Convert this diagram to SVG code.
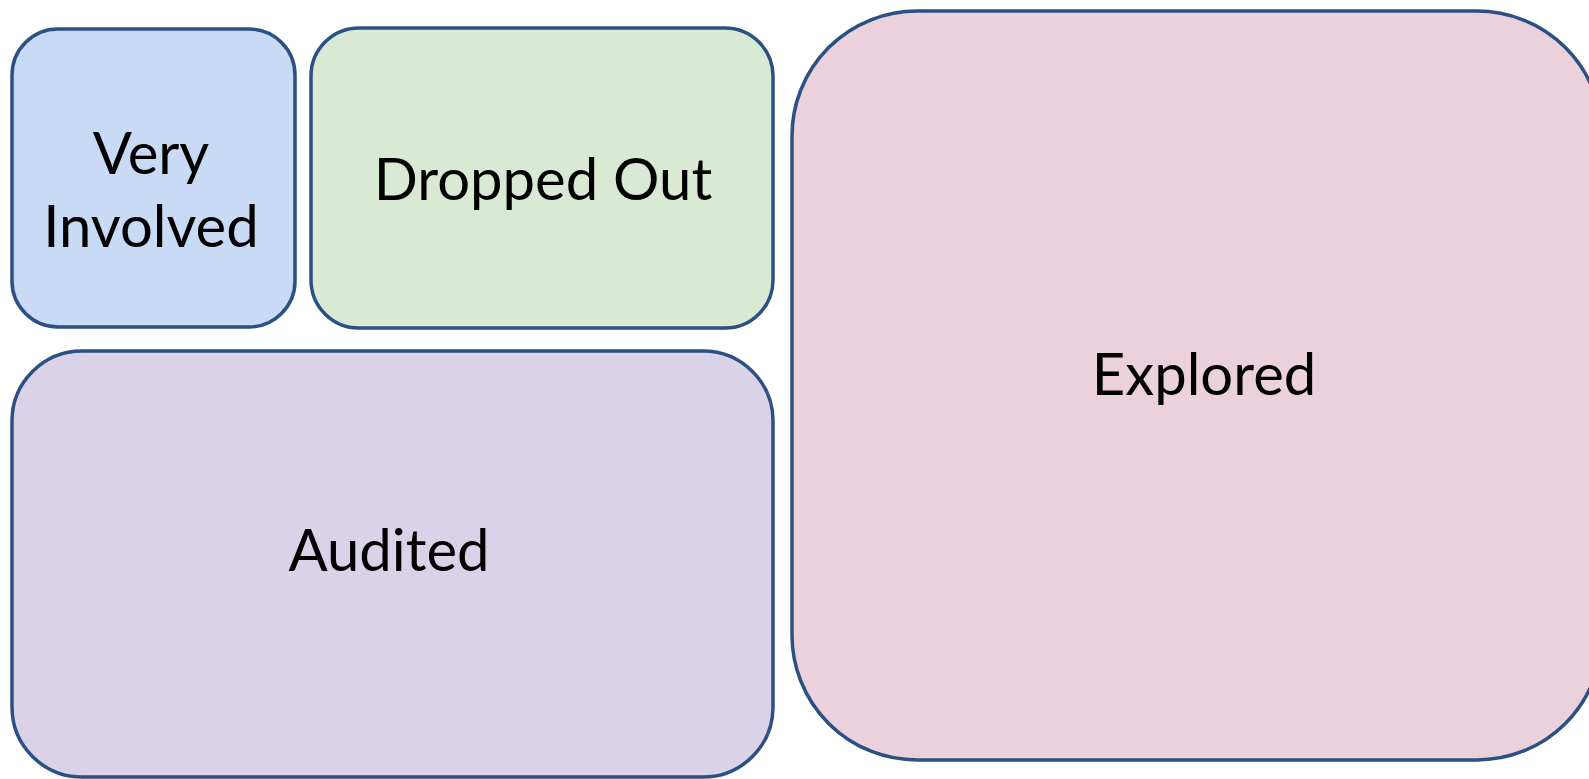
<svg xmlns="http://www.w3.org/2000/svg" width="1589" height="779" viewBox="0 0 1589 779">
<style>
.box{stroke:#2A5084;stroke-width:3.5}
.lbl{font-family:Lato,"Open Sans","Liberation Sans",sans-serif;font-size:58px;fill:#000;text-anchor:middle}
</style>
<rect width="1589" height="779" fill="#fff"/>
<g id="very-involved">
<rect class="box" x="12" y="29" width="283" height="298" rx="46" ry="46" fill="#C9DAF5"/>
<text class="lbl" x="151" y="174">Very</text>
<text class="lbl" x="151" y="247">Involved</text>
</g>
<g id="dropped-out">
<rect class="box" x="311" y="28" width="462" height="300" rx="48" ry="48" fill="#D9EAD4"/>
<text class="lbl" x="543" y="200">Dropped Out</text>
</g>
<g id="audited">
<rect class="box" x="12" y="351" width="761" height="426" rx="70" ry="70" fill="#D9D2E9"/>
<text class="lbl" x="389" y="571">Audited</text>
</g>
<g id="explored">
<rect class="box" x="792" y="11" width="810" height="749" rx="125" ry="125" fill="#EAD1DC"/>
<text class="lbl" x="1204" y="395">Explored</text>
</g>
<g id="connectors"></g>
</svg>
